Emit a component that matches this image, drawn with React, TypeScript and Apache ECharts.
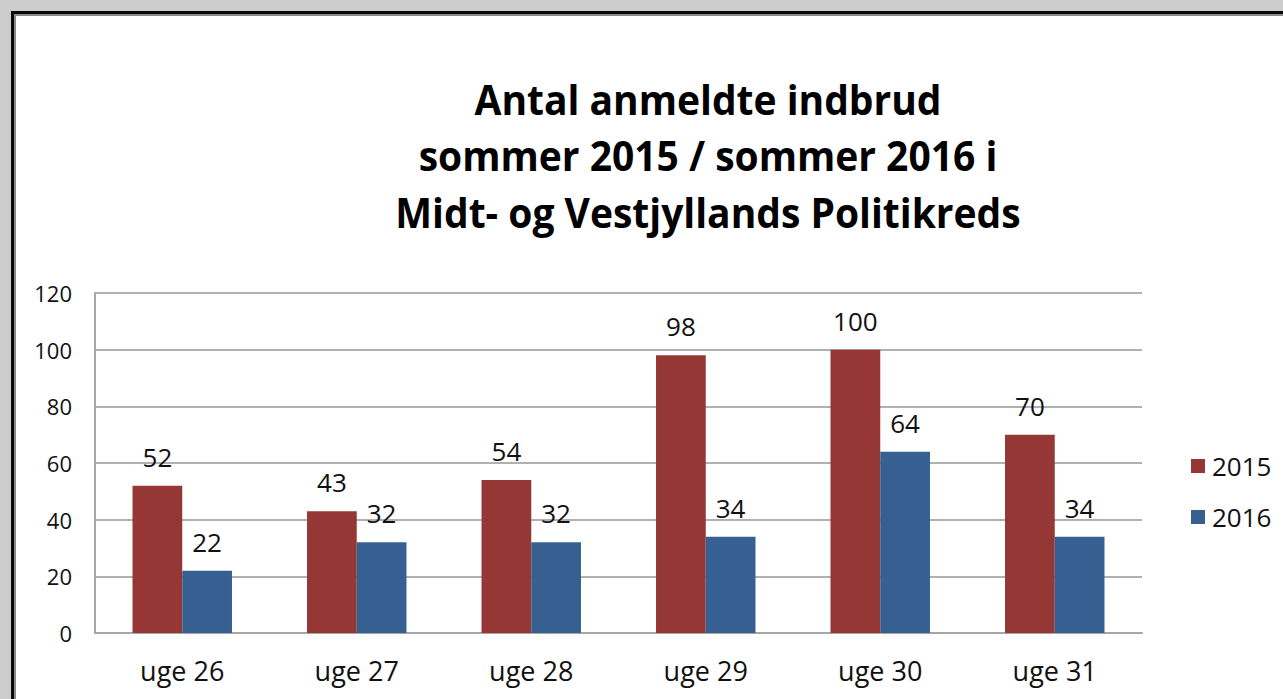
import React, { useEffect, useRef } from "react";
import * as echarts from "echarts";

const categories = ["uge 26", "uge 27", "uge 28", "uge 29", "uge 30", "uge 31"];
const values2015 = [52, 43, 54, 98, 100, 70];
const values2016 = [22, 32, 32, 34, 64, 34];
const titleLines = ["Antal anmeldte indbrud", "sommer 2015 / sommer 2016 i", "Midt- og Vestjyllands Politikreds"];

const FONT = "'Open Sans', 'Noto Sans', sans-serif";

export default function App() {
  const ref = useRef<HTMLDivElement>(null);
  useEffect(() => {
    if (!ref.current) return;
    const chart = echarts.init(ref.current, null, { renderer: "svg" });
    const labelStyle = { show: true, position: "top", distance: 16, color: "#111", fontSize: 26, fontFamily: FONT };
    chart.setOption({
      animation: false,
      backgroundColor: "#cccccc",
      graphic: [
        { type: "rect", z: -10, shape: { x: 11, y: 11, width: 1400, height: 800 }, style: { fill: "#0a0a0a" }, silent: true },
        { type: "rect", z: -10, shape: { x: 14, y: 14, width: 1400, height: 800 }, style: { fill: "#8a8a8a" }, silent: true },
        { type: "rect", z: -10, shape: { x: 16, y: 16, width: 1400, height: 800 }, style: { fill: "#ffffff" }, silent: true },
        ...titleLines.map((t, i) => ({
          type: "text",
          x: 708,
          y: 99 + i * 56.5,
          scaleY: 1.06,
          style: {
            text: t,
            fill: "#000",
            fontSize: 39,
            fontWeight: "bold",
            fontFamily: FONT,
            textAlign: "center",
            textVerticalAlign: "middle",
          },
        })),
      ],
      legend: {
        orient: "vertical",
        left: 1186,
        top: 448,
        itemWidth: 14,
        itemHeight: 14,
        itemGap: 25,
        icon: "rect",
        textStyle: { fontSize: 26, lineHeight: 26, color: "#111", fontFamily: FONT, padding: [0, 0, 0, 2] },
        data: ["2015", "2016"],
      },
      grid: { left: 95, right: 141, top: 293, bottom: 66, containLabel: false },
      xAxis: {
        type: "category",
        data: categories,
        axisLine: { lineStyle: { color: "#a6a6a6", width: 2 } },
        axisTick: { show: false },
        axisLabel: { fontSize: 27, color: "#111", fontFamily: FONT, margin: 24 },
      },
      yAxis: {
        type: "value",
        min: 0,
        max: 120,
        interval: 20,
        axisLine: { show: true, lineStyle: { color: "#a6a6a6", width: 2 } },
        axisTick: { show: false },
        splitLine: { lineStyle: { color: "#b0b0b0", width: 2 } },
        axisLabel: { fontSize: 22, color: "#111", fontFamily: FONT, margin: 23 },
      },
      series: [
        {
          name: "2015",
          type: "bar",
          data: values2015,
          itemStyle: { color: "#953735" },
          barGap: "0%",
          barCategoryGap: "43%",
          label: labelStyle,
        },
        {
          name: "2016",
          type: "bar",
          data: values2016,
          itemStyle: { color: "#376092" },
          label: labelStyle,
        },
      ],
    });
    return () => chart.dispose();
  }, []);
  return <div ref={ref} style={{ position: "fixed", left: 0, top: 0, width: 1283, height: 699 }} />;
}
